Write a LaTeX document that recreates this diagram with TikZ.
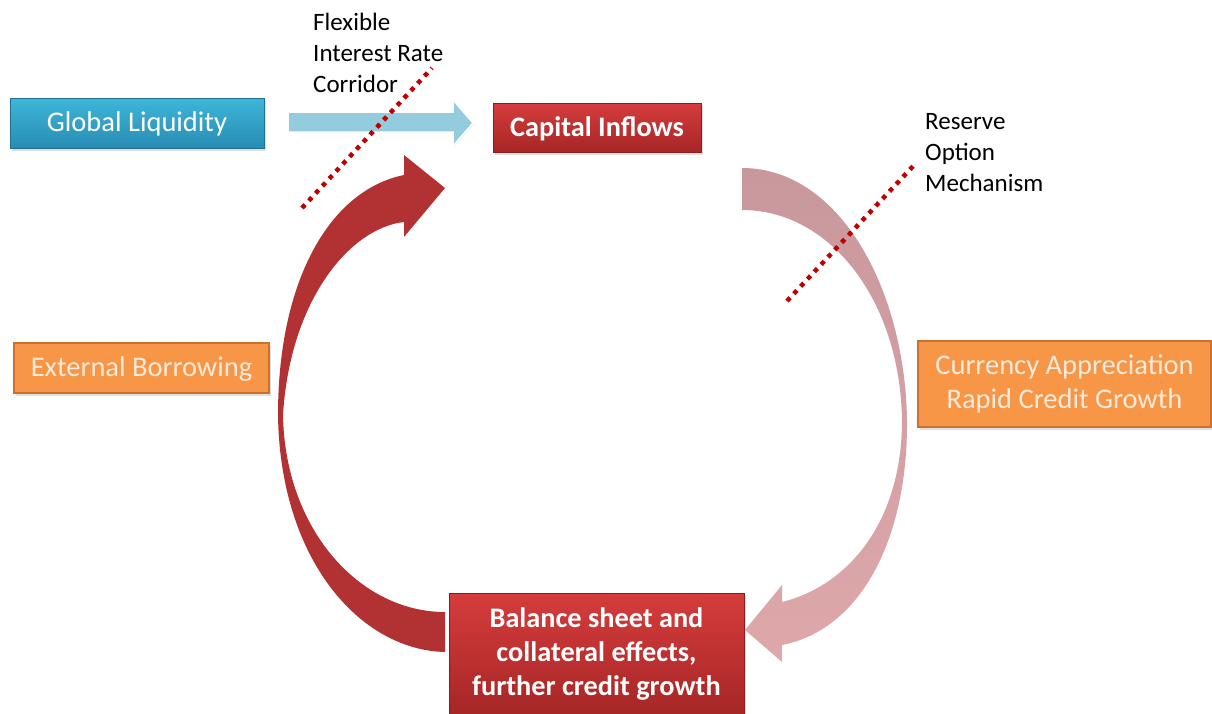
\documentclass[tikz,border=0pt]{standalone}
\usepackage{fontspec}
\setmainfont{Carlito}
\usetikzlibrary{shadows}
\definecolor{bluetop}{RGB}{62,182,216}
\definecolor{bluebot}{RGB}{40,140,180}
\definecolor{redtop}{RGB}{214,60,60}
\definecolor{redbot}{RGB}{166,38,38}
\definecolor{orangefill}{RGB}{247,150,70}
\definecolor{orangeline}{RGB}{205,112,45}
\definecolor{orangetext}{RGB}{253,234,218}
\definecolor{arrowred}{RGB}{178,50,52}
\definecolor{pinktop}{RGB}{200,152,157}
\definecolor{pinkbot}{RGB}{222,168,170}
\definecolor{arrowblue}{RGB}{147,205,221}
\definecolor{dotred}{RGB}{192,0,0}
\tikzset{
  boxshadow/.style={drop shadow={opacity=0.25,shadow xshift=2pt,shadow yshift=-3pt}},
  oneline/.style={text height=24pt,text depth=6.6pt},
  bluebox/.style={rectangle,top color=bluetop,bottom color=bluebot,draw=bluebot!80!black,line width=0.4pt,
    text=white,font=\fontsize{28.5}{34}\selectfont,inner sep=0pt,boxshadow},
  redbox/.style={rectangle,top color=redtop,bottom color=redbot,draw=redbot!80!black,line width=0.4pt,
    text=white,font=\fontsize{28.3}{34}\selectfont\bfseries,inner sep=0pt,align=center,boxshadow},
  orangebox/.style={rectangle,fill=orangefill,draw=orangeline,line width=1.5pt,
    text=orangetext,font=\fontsize{28.5}{34}\selectfont,inner sep=0pt,align=center,boxshadow},
  note/.style={anchor=north west,inner sep=0pt,align=left,text=black,font=\fontsize{25}{31}\selectfont},
  dotline/.style={draw=dotred,line width=4.5pt,dash pattern=on 4.5pt off 5.5pt},
}
\begin{document}
\begin{tikzpicture}[x=1pt,y=-1pt]
\useasboundingbox (0,0) rectangle (1212,713);

% curved arrows
\fill[arrowred]
  (445,652) .. controls (360,650) and (280,560) .. (278,415)
  .. controls (278,280) and (330,190) .. (404,175)
  -- (404,155) -- (445,188) -- (404,237) -- (404,222)
  .. controls (350,228) and (290,300) .. (283,415)
  .. controls (285,530) and (360,612) .. (445,612) -- cycle;
\shade[top color=pinktop,bottom color=pinkbot]
  (742,168) .. controls (840,168) and (905,290) .. (907,420)
  .. controls (908,540) and (860,630) .. (782,645)
  -- (782,662) -- (745,630) -- (782,585) -- (782,602)
  .. controls (850,585) and (902,520) .. (902,420)
  .. controls (900,300) and (830,210) .. (742,210) -- cycle;

% nodes
\node[bluebox,oneline,minimum width=254pt,minimum height=50pt] (gl) at (137,123) {Global Liquidity};
\node[redbox,oneline,minimum width=208pt,minimum height=49pt] (ci) at (597,127.5) {Capital Inflows};
\node[orangebox,oneline,minimum width=255pt,minimum height=50pt] (eb) at (141.5,368) {External Borrowing};
\node[orangebox,minimum width=293pt,minimum height=86pt] (ca) at (1064.5,384) {Currency Appreciation\\Rapid Credit Growth};
\node[redbox,minimum width=295pt,minimum height=122pt] (bs) at (596.5,654) {Balance sheet and\\collateral effects,\\further credit growth};

% block arrow global liquidity -> capital inflows
\filldraw[fill=arrowblue,draw=white,line width=1.5pt,drop shadow={opacity=0.15,shadow xshift=1pt,shadow yshift=-1pt}]
  (288,112) -- (453,112) -- (453,100) -- (473,123) -- (453,146) -- (453,132) -- (288,132) -- cycle;

% notes
\node[note] (fl) at (313,13) {Flexible\\Interest Rate\\Corridor};
\node[note] (ro) at (925,113) {Reserve\\Option\\Mechanism};

% dotted lines
\coordinate (d1a) at (302,208);
\coordinate (d1b) at (432,68);
\coordinate (d2a) at (787,301);
\coordinate (d2b) at (916,163);
\draw[dotline] (d1a) -- (d1b);
\draw[dotline] (d2a) -- (d2b);
\end{tikzpicture}
\end{document}
